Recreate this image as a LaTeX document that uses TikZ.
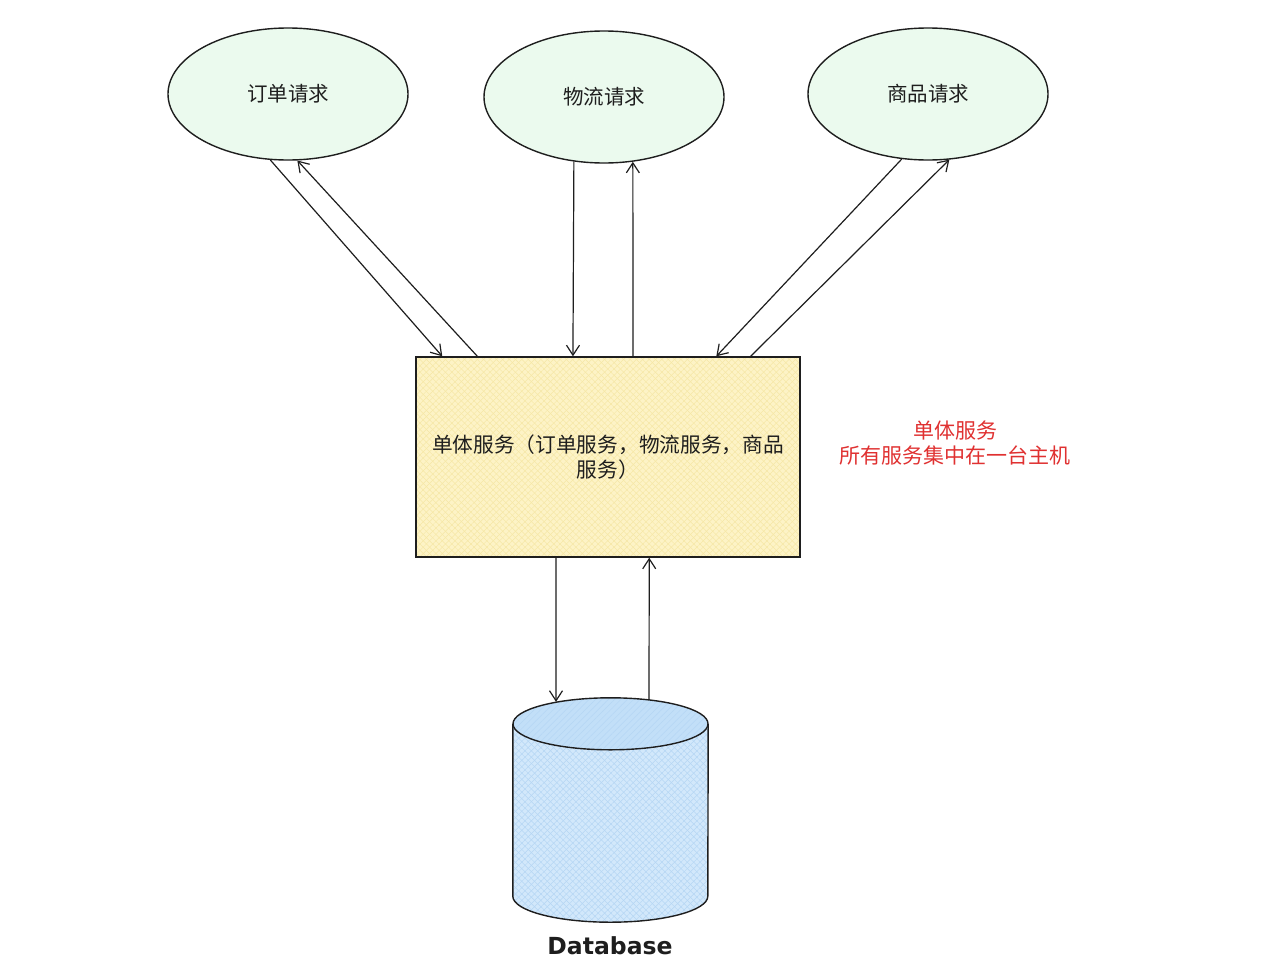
\documentclass[tikz,border=0pt]{standalone}
\usepackage{fontspec}
\setmainfont{Noto Sans CJK SC}
\newfontfamily\dbfont{DejaVu Sans}
\usetikzlibrary{arrows.meta,shapes.geometric,calc,patterns.meta}
\definecolor{ink}{HTML}{1E1E1E}
\definecolor{reqfill}{HTML}{EBFAEE}
\definecolor{svcfill}{HTML}{FDF3C6}
\definecolor{svchatch}{HTML}{F6E7A6}
\definecolor{dbfill}{HTML}{D2E8FB}
\definecolor{dbtop}{HTML}{C2DFF8}
\definecolor{dbhatch}{HTML}{B5D6F4}
\definecolor{note}{HTML}{E03131}
\begin{document}
\begin{tikzpicture}[x=1pt,y=-1pt,
  req/.style={ellipse, draw=ink, line width=1.4pt, fill=reqfill,
    minimum width=240pt, minimum height=132pt, inner sep=0pt,
    font=\fontsize{20.5pt}{24pt}\selectfont, text=ink},
  svc/.style={rectangle, draw=ink, line width=1.4pt,
    preaction={fill=svcfill},
    preaction={pattern={Lines[angle=45,distance=4.5pt,line width=0.5pt]}, pattern color=svchatch},
    preaction={pattern={Lines[angle=-45,distance=4.5pt,line width=0.5pt]}, pattern color=svchatch},
    minimum width=384pt, minimum height=200pt, inner sep=0pt,
    align=center, font=\fontsize{20.7pt}{25pt}\selectfont, text=ink},
  arr/.style={draw=ink, line width=1.2pt,
    -{Straight Barb[length=10pt,width=13pt,line width=1.2pt]}},
  notetext/.style={text=note, align=center, font=\fontsize{21pt}{25pt}\selectfont},
  dblabel/.style={font=\dbfont\bfseries\fontsize{23.5pt}{26pt}\selectfont, text=ink}
]
\useasboundingbox (0,0) rectangle (1281,964);
\fill[white] (0,0) rectangle (1281,964);

% request ellipses
\node[req] (r1) at (288,94) {订单请求};
\node[req] (r2) at (604,97) {物流请求};
\node[req] (r3) at (928,94) {商品请求};

% service box
\node[svc] (box) at (608,457) {单体服务（订单服务，物流服务，商品\\服务）};

% note
\node[notetext] (note) at (955,443) {单体服务\\所有服务集中在一台主机};

% database
\node[minimum width=195pt, minimum height=224pt, inner sep=0pt] (db) at (610.5,810) {};
\path[draw=ink, line width=1.4pt,
    preaction={fill=dbfill},
    preaction={pattern={Lines[angle=45,distance=4.5pt,line width=0.5pt]}, pattern color=dbhatch},
    preaction={pattern={Lines[angle=-45,distance=4.5pt,line width=0.5pt]}, pattern color=dbhatch}]
  ($(db.north west)+(0,26)$) -- ($(db.south west)+(0,-26)$)
  arc[start angle=180, end angle=0, x radius=97.5, y radius=26]
  -- ($(db.north east)+(0,26)$);
\path[draw=ink, line width=1.4pt,
    preaction={fill=dbtop},
    preaction={pattern={Lines[angle=45,distance=4.5pt,line width=0.5pt]}, pattern color=dbhatch}]
  ($(db.north)+(0,26)$) ellipse [x radius=97.5, y radius=26];
\node[dblabel] (dbl) at (610,946) {Database};

% connectors: requests <-> service
\draw[arr] (r1.-105) -- ($(box.north west)!0.07!(box.north east)$);
\draw[arr] ($(box.north west)!0.161!(box.north east)$) -- (r1.-82);
\draw[arr] (r2.-115.8) -- ($(box.north west)!0.409!(box.north east)$);
\draw[arr] ($(box.north west)!0.565!(box.north east)$) -- (r2.-66.5);
\draw[arr] (r3.-112) -- ($(box.north west)!0.781!(box.north east)$);
\draw[arr] ($(box.north west)!0.87!(box.north east)$) -- (r3.-72);

% connectors: service <-> database
\draw[arr] ($(box.south west)!0.365!(box.south east)$) -- ($(db.north)+(-54.5,4)$);
\draw[arr] ($(db.north)+(38.5,2)$) -- ($(box.south west)!0.607!(box.south east)$);
\end{tikzpicture}
\end{document}
